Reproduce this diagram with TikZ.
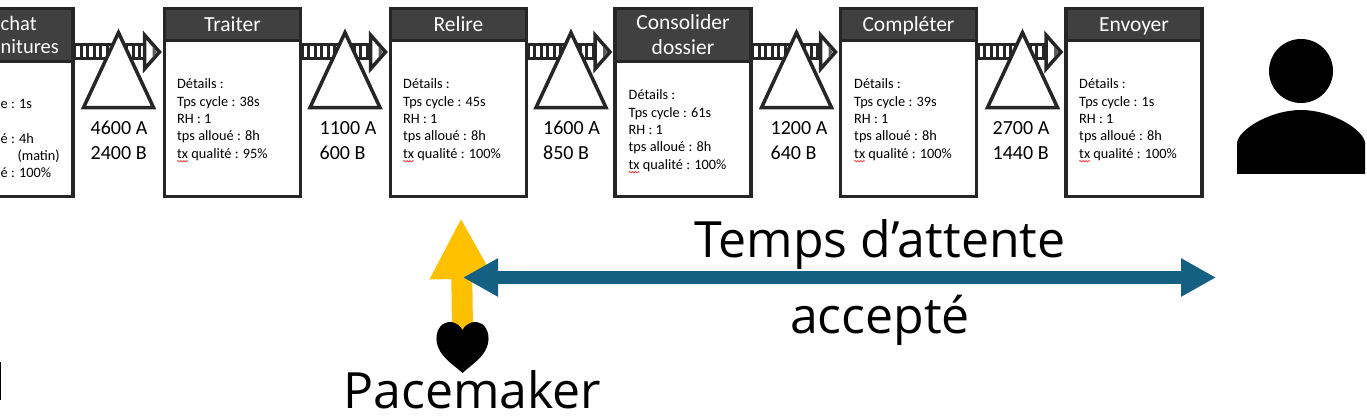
\documentclass[tikz,border=0pt]{standalone}
\usepackage{fontspec}
\setmainfont{Carlito}
\newfontfamily\signfont{Open Sans}
\usetikzlibrary{arrows.meta,shapes.geometric,decorations.pathmorphing}
\definecolor{opline}{HTML}{262626}
\definecolor{ophead}{HTML}{404040}
\definecolor{paceyellow}{HTML}{FFC000}
\definecolor{waitblue}{HTML}{156082}
% Striped push arrow from one box to the next
\newcommand{\flowarrow}[2]{
        \draw[line width=17pt,color=opline] (#1) -- ([xshift=-20pt]#2);
        \draw[line width=11pt,color=white] (#1) -- ([xshift=-20pt]#2);
        \draw[line width=11pt,color=opline,dash pattern=on 3pt off 3.5pt] (#1) -- ([xshift=-20pt]#2);
        \draw[line width=3.5pt,color=opline,fill=white] ([shift={(-20,-17)}]#2) -- ([xshift=-5pt]#2) -- ([shift={(-20,17)}]#2) -- cycle;
        \fill[color=opline!75] ([shift={(-12,-6)}]#2) -- ([xshift=-8pt]#2) -- ([shift={(-12,6)}]#2) -- cycle;
}

\begin{document}
\begin{tikzpicture}[x=1pt,y=-1pt]
        %
        % `opbody' and `ophead' make up the process boxes.
        % `stock' is the inventory triangle.
        \tikzstyle{opbody} = [draw=opline,fill=white,line width=3.5pt,minimum width=136,minimum height=188,inner sep=0pt,outer sep=0pt,anchor=north]
        \tikzstyle{ophead} = [draw=opline,fill=ophead,line width=3.5pt,minimum width=136,inner sep=0pt,outer sep=0pt,anchor=north,text=white,align=center,font=\fontsize{21.5}{25}\selectfont]
        \tikzstyle{onetitle} = [ophead,minimum height=32,text height=15pt,text depth=0pt]
        \tikzstyle{details} = [anchor=north west,align=left,inner sep=0pt,font=\fontsize{14.3}{17.4}\selectfont]
        \tikzstyle{cutdetails} = [anchor=west,inner sep=0pt,font=\fontsize{14.3}{17.4}\selectfont]
        \tikzstyle{cuttitle} = [anchor=west,inner sep=0pt,text=white,font=\fontsize{20.5}{25}\selectfont]
        \tikzstyle{stock} = [draw=opline,fill=white,line width=3.5pt,shape=isosceles triangle,shape border rotate=90,isosceles triangle stretches,minimum width=70,minimum height=75,inner sep=0pt,anchor=apex]
        \tikzstyle{stocktext} = [align=left,inner sep=0pt,font=\fontsize{20}{24.5}\selectfont]
        \tikzstyle{squiggle} = [draw=red,line width=0.5pt,decorate,decoration={snake,amplitude=0.7pt,segment length=3pt}]
        \tikzstyle{bigtext} = [inner sep=0pt,font=\signfont\fontsize{50}{58}\selectfont]
        %
        \useasboundingbox (0,0) rectangle (1367,419);
        %
        % Boxes
        \node[opbody] (op1) at (5,8.5) {};
        \node[ophead,minimum height=53] (head1) at (op1.north) {};
        \node[opbody] (op2) at (232.5,8.5) {};
        \node[onetitle] (head2) at (op2.north) {Traiter};
        \node[opbody] (op3) at (458.5,8.5) {};
        \node[onetitle] (head3) at (op3.north) {Relire};
        \node[opbody] (op4) at (683,8.5) {};
        \node[ophead,minimum height=53] (head4) at (op4.north) {Consolider\\dossier};
        \node[opbody] (op5) at (908.5,8.5) {};
        \node[onetitle] (head5) at (op5.north) {Compléter};
        \node[opbody] (op6) at (1134,8.5) {};
        \node[onetitle] (head6) at (op6.north) {Envoyer};
        %
        % Column 1, cut by the left edge
        \node[cuttitle] (title1a) at (0.5,23) {chat};
        \node[cuttitle] (title1b) at (0.5,47) {nitures};
        \node[cutdetails] (det1a) at (0.5,104) {e : 1s};
        \node[cutdetails] (det1b) at (0.5,139) {é : 4h};
        \node[cutdetails,anchor=east] (det1c) at (60,156) {(matin)};
        \node[cutdetails] (det1d) at (0.5,173) {é : 100\%};
        %
        % Details
        \node[details] (det2) at (177,78.5) {Détails :\\Tps cycle : 38s\\RH : 1\\tps alloué : 8h\\tx qualité : 95\%};
        \node[details] (det3) at (403,78.5) {Détails :\\Tps cycle : 45s\\RH : 1\\tps alloué : 8h\\tx qualité : 100\%};
        \node[details] (det4) at (628.5,89.5) {Détails :\\Tps cycle : 61s\\RH : 1\\tps alloué : 8h\\tx qualité : 100\%};
        \node[details] (det5) at (854,78.5) {Détails :\\Tps cycle : 39s\\RH : 1\\tps alloué : 8h\\tx qualité : 100\%};
        \node[details] (det6) at (1079,78.5) {Détails :\\Tps cycle : 1s\\RH : 1\\tps alloué : 8h\\tx qualité : 100\%};
        \draw[squiggle] ([yshift=-0.5pt]det2.south west) -- ++(11,0);
        \draw[squiggle] ([yshift=-0.5pt]det3.south west) -- ++(11,0);
        \draw[squiggle] ([yshift=-0.5pt]det4.south west) -- ++(11,0);
        \draw[squiggle] ([yshift=-0.5pt]det5.south west) -- ++(11,0);
        \draw[squiggle] ([yshift=-0.5pt]det6.south west) -- ++(11,0);
        %
        % Push arrows
        \coordinate (flowrow) at (0,52);
        \flowarrow{op1.east |- flowrow}{op2.west |- flowrow}
        \flowarrow{op2.east |- flowrow}{op3.west |- flowrow}
        \flowarrow{op3.east |- flowrow}{op4.west |- flowrow}
        \flowarrow{op4.east |- flowrow}{op5.west |- flowrow}
        \flowarrow{op5.east |- flowrow}{op6.west |- flowrow}
        %
        % Stocks
        \node[stock] (stock1) at (118.5,28) {};
        \node[stock] (stock2) at (345,28) {};
        \node[stock] (stock3) at (571,28) {};
        \node[stock] (stock4) at (796.5,28) {};
        \node[stock] (stock5) at (1022.5,28) {};
        \node[stocktext] (qty1) at (119,140.5) {4600 A\\2400 B};
        \node[stocktext] (qty2) at (348,140.5) {1100 A\\600 B};
        \node[stocktext] (qty3) at (571.5,140.5) {1600 A\\850 B};
        \node[stocktext] (qty4) at (799,140.5) {1200 A\\640 B};
        \node[stocktext] (qty5) at (1021,140.5) {2700 A\\1440 B};
        %
        % Pacemaker
        \coordinate (heart) at (462.5,330);
        \coordinate (pacetip) at (461,218);
        \draw[-{Triangle[length=61pt,width=60pt]},line width=21pt,color=paceyellow] (heart) -- (pacetip);
        \fill[black] (heart) .. controls (458,322) and (449,320) .. (443,324) .. controls (436,329) and (434,341) .. (440,351) .. controls (445,360) and (455,366) .. (462.5,373) .. controls (470,366) and (480,360) .. (485,351) .. controls (491,341) and (489,329) .. (482,324) .. controls (476,320) and (467,322) .. (462.5,330) -- cycle;
        \node[bigtext] (pace) at (472.5,390) {Pacemaker};
        %
        % Accepted waiting time
        \coordinate (waitleft) at (463,277.5);
        \coordinate (waitright) at (1216,277.5);
        \draw[{Triangle[length=35pt,width=36pt]}-{Triangle[length=35pt,width=36pt]},line width=13pt,color=waitblue] (waitleft) -- (waitright);
        \node[bigtext] (wait1) at (880,244.5) {Temps d’attente};
        \node[bigtext] (wait2) at (880,320) {accepté};
        %
        % Customer
        \node[fill=black,shape=circle,minimum size=64,inner sep=0pt] (custhead) at (1301,71) {};
        \fill[black] (1237,174) -- (1237,143) .. controls (1238,130) and (1270,110) .. (1301,110) .. controls (1332,110) and (1364,130) .. (1365,143) -- (1365,174) -- cycle;
        %
        % Edge mark bottom left
        \coordinate (marktop) at (0.5,362);
        \coordinate (markbot) at (0.5,400);
        \draw[line width=1.5pt] (marktop) -- (markbot);
        %
\end{tikzpicture}
\end{document}
